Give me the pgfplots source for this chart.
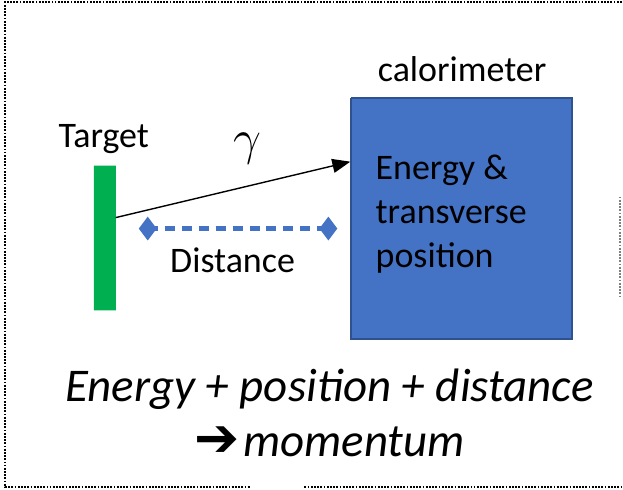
\documentclass[border=0pt]{standalone}
\usepackage{pgfplots}
\pgfplotsset{compat=1.18}
\usetikzlibrary{arrows.meta}
\usepackage{fontspec}
\setmainfont{Carlito}
\newfontfamily\dejavu{DejaVu Sans}
\definecolor{calblue}{HTML}{4472C4}
\definecolor{caledge}{HTML}{2F528F}
\definecolor{tgtgreen}{HTML}{00B050}
\begin{document}
\begin{tikzpicture}
\begin{axis}[width=311.5pt,height=245pt,scale only axis,
  xmin=0,xmax=623,ymin=0,ymax=490,y dir=reverse,
  axis lines=none,clip=false]
\path (axis cs:0,0) (axis cs:623,490);
% frame
\addplot[black,line width=1.2pt,dash pattern=on 0.9pt off 0.7pt] coordinates {(623,2)(5,2)(5,488)(250,488)};
\addplot[black,line width=1.2pt,dash pattern=on 0.9pt off 0.7pt] coordinates {(305,488)(623,488)};
\addplot[gray,line width=1.2pt,dash pattern=on 0.9pt off 0.7pt] coordinates {(621,197)(621,298)};
% target
\addplot[fill=tgtgreen,draw=none] coordinates {(94,166)(116,166)(116,311)(94,311)(94,166)};
% calorimeter
\addplot[fill=calblue,draw=caledge,line width=1pt] coordinates {(352,98)(573,98)(573,340)(352,340)(352,98)};
% photon
\addplot[black,line width=0.7pt,-{Triangle[length=9pt,width=7pt]}] coordinates {(116,218)(351,162)};
% distance
\addplot[calblue,line width=2.6pt,dash pattern=on 5pt off 3.5pt,mark=diamond*,
  mark size=3.8pt,mark options={solid,fill=calblue}] coordinates {(148,229)(329,229)};
\node[anchor=base,font=\fontsize{18}{22}\selectfont] at (axis cs:463,82) {calorimeter};
\node[anchor=base,font=\fontsize{18}{22}\selectfont] at (axis cs:104,148) {Target};
\node[anchor=base,font=\fontsize{18}{22}\selectfont] at (axis cs:233,273) {Distance};
\node[anchor=base,font=\fontsize{24}{26}\selectfont] at (axis cs:248,155) {$\gamma$};
\node[anchor=base west,inner sep=0pt,font=\fontsize{18}{22}\selectfont] at (axis cs:376,180) {Energy \&};
\node[anchor=base west,inner sep=0pt,font=\fontsize{18}{22}\selectfont] at (axis cs:376,224) {transverse};
\node[anchor=base west,inner sep=0pt,font=\fontsize{18}{22}\selectfont] at (axis cs:376,268) {position};
\node[anchor=base,font=\fontsize{23.5}{28}\selectfont\itshape] at (axis cs:330,402) {Energy + position + distance};
\node[anchor=base,font=\fontsize{23.5}{28}\selectfont\itshape] at (axis cs:330,457) {{\dejavu\upshape\bfseries\fontsize{27}{28}\selectfont ➔}\kern2pt momentum};
\end{axis}
\end{tikzpicture}
\end{document}
